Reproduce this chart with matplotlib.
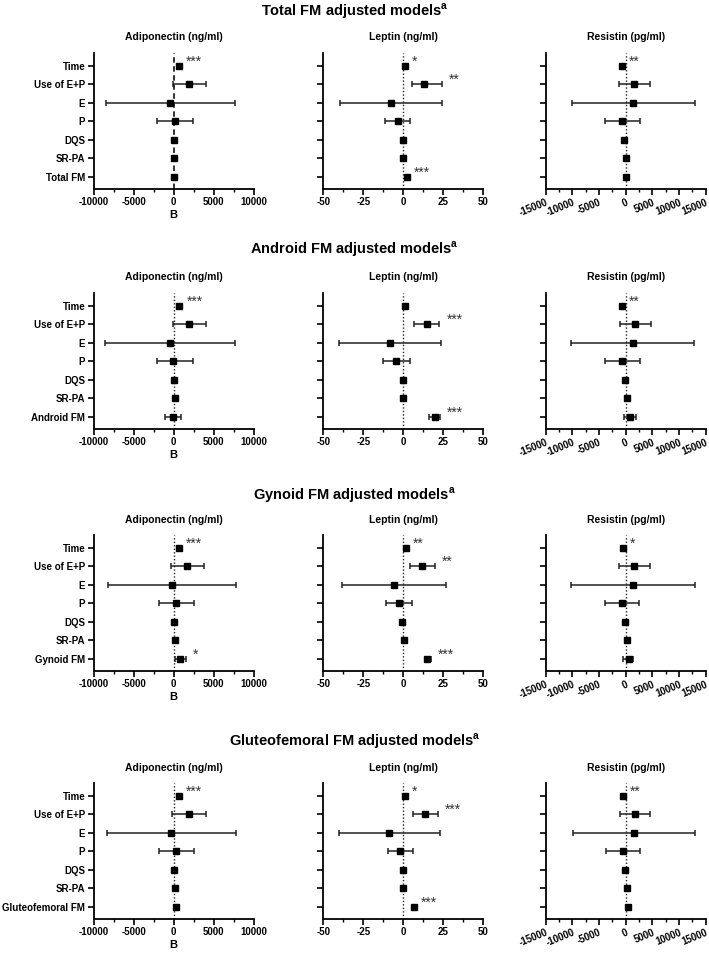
import matplotlib
matplotlib.use('Agg')
import matplotlib.pyplot as plt
from matplotlib.ticker import MultipleLocator

plt.rcParams['font.family'] = ['Liberation Sans', 'DejaVu Sans']
plt.rcParams['mathtext.fontset'] = 'custom'
plt.rcParams['mathtext.rm'] = 'Liberation Sans:bold'
plt.rcParams['axes.unicode_minus'] = False

# Predictors (top to bottom), last one depends on the model
base_labels = ['Time', 'Use of E+P', 'E', 'P', 'DQS', 'SR-PA']
models = ['Total FM', 'Android FM', 'Gynoid FM', 'Gluteofemoral FM']
outcomes = ['Adiponectin (ng/ml)', 'Leptin (ng/ml)', 'Resistin (pg/ml)']

# B estimates, lower and upper 95% CI (None = no visible bar), stars
# --- Total FM ---
adip_total_b = [667, 1875, -417, 167, 50, 80, 40]
adip_total_lo = [None, -125, -8417, -2125, None, None, None]
adip_total_hi = [None, 4000, 7625, 2458, None, None, None]
adip_total_sig = ['***', '', '', '', '', '', '']

lep_total_b = [1.3, 13.1, -7.9, -3.5, -0.4, -0.2, 2.3]
lep_total_lo = [None, 5.6, -39.4, -11.2, None, None, None]
lep_total_hi = [None, 24.0, 24.2, 4.4, None, None, None]
lep_total_sig = ['*', '**', '', '', '', '', '***']

res_total_b = [-690, 1625, 1440, -690, -250, 125, 60]
res_total_lo = [None, -1310, -10060, -3940, None, None, None]
res_total_hi = [None, 4560, 12940, 2625, None, None, None]
res_total_sig = ['**', '', '', '', '', '', '']

# --- Android FM ---
adip_andr_b = [717, 1940, -464, -42, 84, 127, -84]
adip_andr_lo = [None, -127, -8530, -2150, None, None, -1050]
adip_andr_hi = [None, 4050, 7640, 2450, None, None, 890]
adip_andr_sig = ['***', '', '', '', '', '', '']

lep_andr_b = [1.2, 14.5, -8.5, -4.4, -0.2, -0.2, 19.5]
lep_andr_lo = [None, 6.8, -40.5, -12.5, None, None, 16.0]
lep_andr_hi = [None, 22.6, 23.7, 4.2, None, None, 22.8]
lep_andr_sig = ['', '***', '', '', '', '', '***']

res_andr_b = [-625, 1750, 1310, -690, -190, 250, 750]
res_andr_lo = [None, -1060, -10190, -3940, None, None, -310]
res_andr_hi = [None, 4750, 12875, 2625, None, None, 1875]
res_andr_sig = ['**', '', '', '', '', '', '']

# --- Gynoid FM ---
adip_gyn_b = [625, 1710, -250, 330, 40, 125, 830]
adip_gyn_lo = [None, -330, -8170, -1830, None, None, 125]
adip_gyn_hi = [None, 3790, 7790, 2580, None, None, 1500]
adip_gyn_sig = ['***', '', '', '', '', '', '*']

lep_gyn_b = [1.9, 11.6, -5.6, -2.9, -0.6, 0.6, 15.1]
lep_gyn_lo = [None, 3.9, -38.4, -10.6, None, None, 13.3]
lep_gyn_hi = [None, 19.6, 26.6, 5.2, None, None, 17.2]
lep_gyn_sig = ['**', '**', '', '', '', '', '***']

res_gyn_b = [-560, 1625, 1375, -750, -190, 190, 560]
res_gyn_lo = [None, -1190, -10190, -3940, None, None, -440]
res_gyn_hi = [None, 4560, 13060, 2560, None, None, 1310]
res_gyn_sig = ['*', '', '', '', '', '', '']

# --- Gluteofemoral FM ---
adip_glu_b = [625, 1875, -375, 333, 40, 125, 290]
adip_glu_lo = [None, -250, -8330, -1875, None, None, None]
adip_glu_hi = [None, 4040, 7750, 2580, None, None, None]
adip_glu_sig = ['***', '', '', '', '', '', '']

lep_glu_b = [1.3, 13.7, -8.9, -1.9, -0.4, 0.0, 6.5]
lep_glu_lo = [None, 6.2, -40.4, -9.4, None, None, None]
lep_glu_hi = [None, 21.6, 22.7, 5.8, None, None, None]
lep_glu_sig = ['*', '***', '', '', '', '', '***']

res_glu_b = [-560, 1750, 1500, -500, -125, 310, 375]
res_glu_lo = [None, -1060, -9875, -3750, None, None, None]
res_glu_hi = [None, 4625, 13060, 2750, None, None, None]
res_glu_sig = ['**', '', '', '', '', '', '']

data = [
    [(adip_total_b, adip_total_lo, adip_total_hi, adip_total_sig),
     (lep_total_b, lep_total_lo, lep_total_hi, lep_total_sig),
     (res_total_b, res_total_lo, res_total_hi, res_total_sig)],
    [(adip_andr_b, adip_andr_lo, adip_andr_hi, adip_andr_sig),
     (lep_andr_b, lep_andr_lo, lep_andr_hi, lep_andr_sig),
     (res_andr_b, res_andr_lo, res_andr_hi, res_andr_sig)],
    [(adip_gyn_b, adip_gyn_lo, adip_gyn_hi, adip_gyn_sig),
     (lep_gyn_b, lep_gyn_lo, lep_gyn_hi, lep_gyn_sig),
     (res_gyn_b, res_gyn_lo, res_gyn_hi, res_gyn_sig)],
    [(adip_glu_b, adip_glu_lo, adip_glu_hi, adip_glu_sig),
     (lep_glu_b, lep_glu_lo, lep_glu_hi, lep_glu_sig),
     (res_glu_b, res_glu_lo, res_glu_hi, res_glu_sig)],
]

xlims = [(-10000, 10000), (-50, 50), (-15000, 15000)]
major = [5000, 25, 5000]
minor = [2500, 12.5, 2500]

W, H = 709, 955
fig = plt.figure(figsize=(W / 100, H / 100), dpi=100)

col_left = [93.7, 323.3, 545.7]
col_w = 160
row_top = [53, 293, 535, 783]
row_h = 136
title_y = [11, 249, 495, 741]

for r, model in enumerate(models):
    fig.text(0.5, 1 - title_y[r] / H, model + ' adjusted models$^{\\rm a}$',
             ha='center', va='center', fontsize=10.5, fontweight='bold')
    labels = base_labels + [model]
    for c in range(3):
        b, lo, hi, sig = data[r][c]
        ax = fig.add_axes([col_left[c] / W, 1 - (row_top[r] + row_h) / H,
                           col_w / W, row_h / H])
        ys = list(range(len(labels)))
        for i in ys:
            if lo[i] is not None:
                ax.errorbar([b[i]], [i], xerr=[[b[i] - lo[i]], [hi[i] - b[i]]],
                            fmt='none', ecolor='#222222', elinewidth=1.1,
                            capsize=2.5, capthick=1.1, zorder=2)
        ax.plot(b, ys, 's', color='black', markersize=4.6, zorder=3)
        for i in ys:
            if sig[i]:
                xs = b[i] if hi[i] is None else hi[i]
                ax.annotate(sig[i], (xs, i), xytext=(5, 3), textcoords='offset points',
                            ha='left', va='center', fontsize=10, color='#333333')
        ls = (0, (3, 2)) if (r == 0 and c == 0) else (0, (1, 1.5))
        lw = 1.3 if (r == 0 and c == 0) else 1.0
        ax.axvline(0, color='#222222', linestyle=ls, linewidth=lw, zorder=1)
        ax.set_xlim(*xlims[c])
        ax.set_ylim(len(labels) - 1 + 0.65, -0.68)
        ax.set_yticks(ys)
        if c == 0:
            ax.set_yticklabels(labels, fontsize=7, fontweight='bold')
        else:
            ax.set_yticklabels([])
        ax.xaxis.set_major_locator(MultipleLocator(major[c]))
        ax.xaxis.set_minor_locator(MultipleLocator(minor[c]))
        for s in ['top', 'right']:
            ax.spines[s].set_visible(False)
        for s in ['left', 'bottom']:
            ax.spines[s].set_linewidth(1.3)
        ax.tick_params(axis='both', which='major', length=4, width=1.2,
                       direction='out', pad=2)
        ax.tick_params(axis='x', which='minor', length=2.5, width=1.0)
        for lab in ax.get_xticklabels():
            lab.set_fontsize(7)
            lab.set_fontweight('bold')
        if c == 2:
            for lab in ax.get_xticklabels():
                lab.set_rotation(22)
                lab.set_ha('right')
                lab.set_rotation_mode('anchor')
        ax.set_title(outcomes[c], fontsize=7.5, fontweight='bold', pad=9)
        if c == 0:
            ax.set_xlabel('B', fontsize=8, fontweight='bold', labelpad=2)

fig.savefig('out.png', dpi=100)
